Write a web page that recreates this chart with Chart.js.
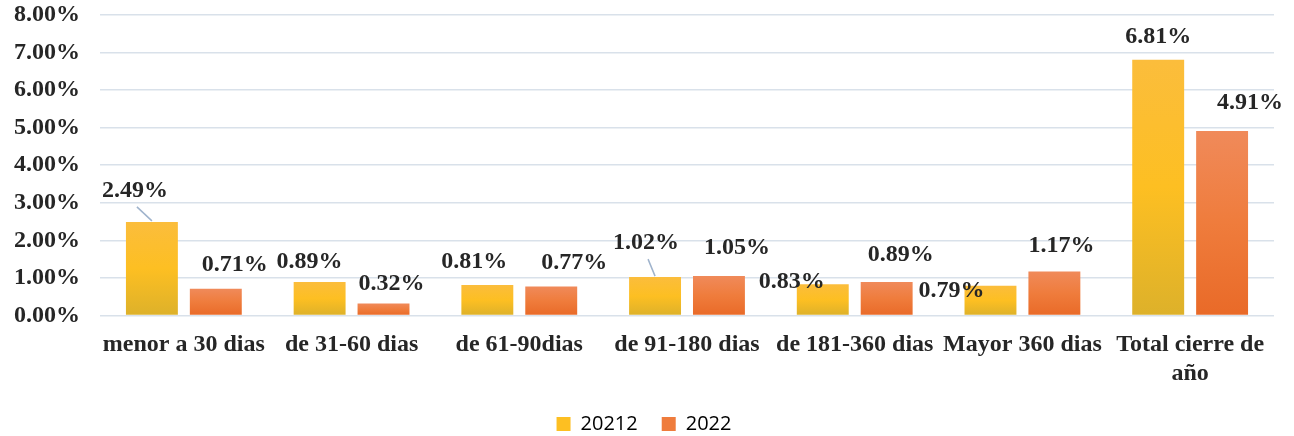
<!DOCTYPE html>
<html>
<head>
<meta charset="utf-8">
<script src="https://cdn.jsdelivr.net/npm/chart.js@4.4.1/dist/chart.umd.min.js"></script>
<style>
  html, body { margin: 0; padding: 0; background: #ffffff; }
  #wrap { width: 1294px; height: 436px; }
</style>
</head>
<body>
<div id="wrap"><canvas id="chart"></canvas></div>
<script>
// Data
const categories = ["menor a 30 dias", "de 31-60 dias", "de 61-90dias", "de 91-180 dias", "de 181-360 dias", "Mayor 360 dias", ["Total cierre de", "año"]]
const seriesNames = ["20212", "2022"]
const values2021 = [2.49, 0.89, 0.81, 1.02, 0.83, 0.79, 6.81]
const values2022 = [0.71, 0.32, 0.77, 1.05, 0.89, 1.17, 4.91]
const yTicks = [0, 1, 2, 3, 4, 5, 6, 7, 8]

// Label placement (offset from bar top centre), like the moved labels in the original
const labelOffsets = [
  [[-17, -31], [-10, -20], [-13, -23], [-9, -34], [-31, -2], [-39, 5], [0, -23]],
  [[19, -24], [8, -20], [23, -24], [18, -28], [14, -27], [7, -26], [28, -28]],
]
const leaderLines = [[0, 0], [0, 3]] // [dataset, index]

const serif = "'Liberation Serif', 'Times New Roman', serif"

function barGradient(mid, top, bottom) {
  return (context) => {
    const chart = context.chart
    const y = chart.scales.y
    if (!y || context.raw === undefined) return mid
    const y0 = y.getPixelForValue(0)
    const y1 = y.getPixelForValue(context.raw)
    if (!isFinite(y0) || !isFinite(y1) || y0 === y1) return mid
    const g = chart.ctx.createLinearGradient(0, y1, 0, y0)
    g.addColorStop(0, top)
    g.addColorStop(0.5, mid)
    g.addColorStop(1, bottom)
    return g
  }
}

const valueLabels = {
  id: "valueLabels",
  afterDatasetsDraw(chart) {
    const c = chart.ctx
    c.save()
    c.font = "bold 24px " + serif
    c.fillStyle = "#262626"
    c.textAlign = "center"
    c.textBaseline = "middle"
    chart.data.datasets.forEach((ds, di) => {
      const meta = chart.getDatasetMeta(di)
      meta.data.forEach((bar, i) => {
        const off = labelOffsets[di][i]
        c.fillText(ds.data[i].toFixed(2) + "%", bar.x + off[0], bar.y + off[1])
      })
    })
    // leader lines
    c.strokeStyle = "#9fb3cc"
    c.lineWidth = 1.5
    leaderLines.forEach(([di, i]) => {
      const bar = chart.getDatasetMeta(di).data[i]
      const off = labelOffsets[di][i]
      c.beginPath()
      c.moveTo(bar.x + off[0] + 2, bar.y + off[1] + 16)
      c.lineTo(bar.x, bar.y - 1)
      c.stroke()
    })
    c.restore()
  },
}

// pull the legend a bit lower
const legendShift = {
  id: "legendShift",
  beforeInit(chart) {
    const origFit = chart.legend.fit
    chart.legend.fit = function () {
      origFit.call(this)
      this.height -= 8
    }
  },
}

new Chart(document.getElementById("chart"), {
  type: "bar",
  data: {
    labels: categories,
    datasets: [
      {
        label: seriesNames[0],
        data: values2021,
        backgroundColor: barGradient("#fdbf22", "#fbbd3c", "#ddb12a"),
        borderWidth: 0,
      },
      {
        label: seriesNames[1],
        data: values2022,
        backgroundColor: barGradient("#ef7c3c", "#f08a5a", "#e96a28"),
        borderWidth: 0,
      },
    ],
  },
  options: {
    responsive: true,
    maintainAspectRatio: false,
    animation: false,
    layout: { padding: { top: 15, left: 14, right: 20, bottom: 0 } },
    categoryPercentage: 0.762,
    barPercentage: 0.8125,
    scales: {
      x: {
        grid: { display: false },
        border: { display: false },
        afterFit: (axis) => {
          axis.paddingLeft = 0
          axis.paddingRight = 0
          axis.height -= 5
        },
        ticks: {
          color: "#262626",
          font: { family: serif, size: 24, weight: "bold", lineHeight: 1.2 },
          maxRotation: 0,
          autoSkip: false,
          padding: 7,
        },
      },
      y: {
        min: 0,
        max: 8,
        afterBuildTicks: (axis) => { axis.ticks = yTicks.map((v) => ({ value: v })) },
        afterFit: (axis) => {
          axis.paddingTop = 0
          axis.paddingBottom = 0
          axis.width = 86
        },
        grid: { color: "#d9e1ea", lineWidth: 1.5, drawTicks: false },
        border: { display: false },
        ticks: {
          color: "#262626",
          font: { family: serif, size: 24, weight: "bold" },
          padding: 20,
          callback: (v) => Number(v).toFixed(2) + "%",
        },
      },
    },
    plugins: {
      legend: {
        position: "bottom",
        labels: {
          color: "#595959",
          font: { family: "'Open Sans', 'Liberation Sans', sans-serif", size: 20 },
          boxWidth: 14,
          boxHeight: 14,
          padding: 24,
          generateLabels: (chart) => chart.data.datasets.map((ds, i) => ({
            text: ds.label,
            fillStyle: i === 0 ? "#fdbf22" : "#ef7c3c",
            strokeStyle: "transparent",
            lineWidth: 0,
            datasetIndex: i,
          })),
        },
      },
      tooltip: { enabled: false },
    },
  },
  plugins: [valueLabels, legendShift],
})
</script>
</body>
</html>
